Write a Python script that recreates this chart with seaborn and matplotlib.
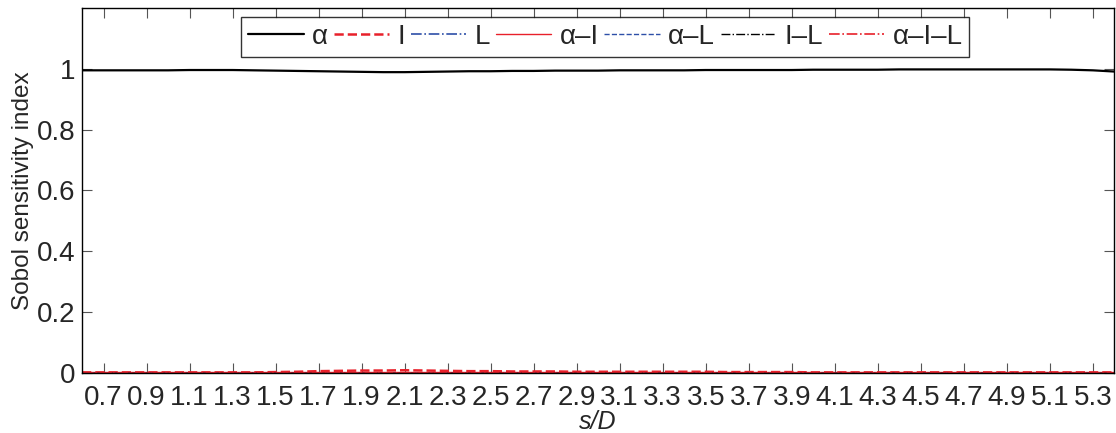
import numpy as np
import pandas as pd
import matplotlib
matplotlib.use("Agg")
import matplotlib.pyplot as plt
import seaborn as sns

sns.set_style("ticks")
plt.rcParams["font.family"] = ["Liberation Sans", "DejaVu Sans"]

# s/D positions
s_D = [0.6, 0.7, 0.8, 0.9, 1.0, 1.1, 1.2, 1.3, 1.4, 1.5, 1.6, 1.7, 1.8, 1.9, 2.0,
       2.1, 2.2, 2.3, 2.4, 2.5, 2.6, 2.7, 2.8, 2.9, 3.0, 3.1, 3.2, 3.3, 3.4, 3.5,
       3.6, 3.7, 3.8, 3.9, 4.0, 4.1, 4.2, 4.3, 4.4, 4.5, 4.6, 4.7, 4.8, 4.9, 5.0,
       5.1, 5.2, 5.3, 5.4]

# first-order and interaction indices
S_alpha = [0.995, 0.995, 0.995, 0.995, 0.995, 0.996, 0.996, 0.996, 0.995, 0.994,
           0.993, 0.992, 0.991, 0.990, 0.989, 0.989, 0.990, 0.991, 0.992, 0.992,
           0.993, 0.993, 0.994, 0.994, 0.994, 0.995, 0.995, 0.995, 0.995, 0.996,
           0.996, 0.996, 0.996, 0.996, 0.997, 0.997, 0.997, 0.997, 0.998, 0.998,
           0.998, 0.998, 0.998, 0.998, 0.998, 0.998, 0.997, 0.995, 0.991]
S_I = [0.002, 0.002, 0.002, 0.002, 0.002, 0.002, 0.002, 0.002, 0.002, 0.003,
       0.004, 0.006, 0.007, 0.008, 0.008, 0.009, 0.008, 0.007, 0.006, 0.006,
       0.005, 0.005, 0.005, 0.004, 0.004, 0.004, 0.004, 0.004, 0.004, 0.004,
       0.003, 0.003, 0.003, 0.003, 0.002, 0.002, 0.002, 0.002, 0.002, 0.002,
       0.002, 0.002, 0.002, 0.002, 0.002, 0.002, 0.002, 0.002, 0.002]
S_L = [0.0005] * 49
S_aI = [0.002] * 49
S_aL = [0.0005] * 49
S_IL = [0.0003] * 49
S_aIL = [0.001] * 49

labels = ["\u03b1", "I", "L", "\u03b1\u2013I", "\u03b1\u2013L", "I\u2013L", "\u03b1\u2013I\u2013L"]
series = [S_alpha, S_I, S_L, S_aI, S_aL, S_IL, S_aIL]
colors = ["black", "#e8202a", "#2d4fa8", "#e8202a", "#2d4fa8", "black", "#e8202a"]
styles = ["-", "--", "-.", "-", "--", "-.", "-."]
widths = [1.6, 1.8, 1.2, 1.0, 1.0, 1.0, 1.2]

df = pd.DataFrame({"s_D": s_D})
for lab, vals in zip(labels, series):
    df[lab] = vals

fig = plt.figure(figsize=(11.16, 4.33), dpi=100)
ax = fig.add_axes([0.0735, 0.1386, 0.925, 0.843])

for lab, c, ls, lw in zip(labels, colors, styles, widths):
    sns.lineplot(data=df, x="s_D", y=lab, ax=ax, color=c, linestyle=ls,
                 linewidth=lw, label=lab)

ax.set_xlim(0.6, 5.4)
ax.set_ylim(0, 1.2)
xt = [0.7, 0.9, 1.1, 1.3, 1.5, 1.7, 1.9, 2.1, 2.3, 2.5, 2.7, 2.9, 3.1, 3.3,
      3.5, 3.7, 3.9, 4.1, 4.3, 4.5, 4.7, 4.9, 5.1, 5.3]
ax.set_xticks(xt)
ax.set_xticklabels([f"{v:.1f}" for v in xt])
ax.set_yticks([0, 0.2, 0.4, 0.6, 0.8, 1])
ax.set_yticklabels(["0", "0.2", "0.4", "0.6", "0.8", "1"])
ax.tick_params(direction="in", top=True, right=True, length=7, width=0.8,
               labelsize=20, color="#555555")
ax.tick_params(axis="x", pad=9)
ax.tick_params(axis="y", pad=5)
for sp in ax.spines.values():
    sp.set_linewidth(1.0)
    sp.set_color("black")

ax.set_xlabel("s/D", fontsize=18, style="italic", labelpad=-1)
ax.set_ylabel("Sobol sensitivity index", fontsize=17.5, labelpad=2)

ax.legend(loc="upper center", bbox_to_anchor=(0.507, 0.975), ncol=7, fontsize=20,
          frameon=True, fancybox=False, edgecolor="black", handlelength=2.0,
          handletextpad=0.3, columnspacing=0.2, borderpad=0.25, borderaxespad=0)
ax.get_legend().get_frame().set_linewidth(1.0)

fig.savefig("out.png", dpi=100)
